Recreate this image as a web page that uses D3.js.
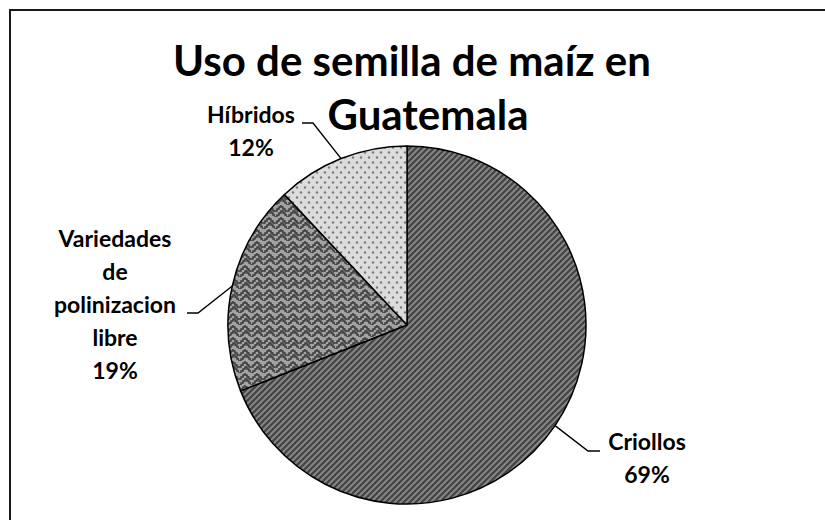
<!DOCTYPE html>
<html>
<head>
<meta charset="utf-8">
<script src="https://cdn.jsdelivr.net/npm/d3@7"></script>
<style>
  body { margin: 0; background: #fff; }
  svg { display: block; }
  text { font-family: Lato, "Open Sans", sans-serif; font-weight: bold; fill: #000; }
</style>
</head>
<body>
<svg id="chart" width="825" height="520"></svg>
<script>
// chart data
const categories = ['Criollos', 'Variedades de polinizacion libre', 'Híbridos'];
const values = [69, 19, 12];
const labelLines = [['Criollos'], ['Variedades', 'de', 'polinizacion', 'libre'], ['Híbridos']];
const titleLines = ['Uso de semilla de maíz en', 'Guatemala'];

const width = 825, height = 520;
const cx = 407, cy = 325, radius = 179;

// where each label block sits and where its leader line meets it
const labelLayout = [
    {x: 647, y: 450, elbow: [588, 451], end: [600, 451]},
    {x: 115, y: 247, elbow: [198, 313], end: [187, 313]},
    {x: 251, y: 123, elbow: [313, 123], end: [302, 123]}
];

const svg = d3.select('#chart');
const defs = svg.append('defs');

// criollos: dark upward diagonal stripes
const p1 = defs.append('pattern').attr('id', 'pat0')
    .attr('patternUnits', 'userSpaceOnUse').attr('width', 6).attr('height', 6);
p1.append('rect').attr('width', 6).attr('height', 6).attr('fill', '#8a8a8a');
p1.append('path').attr('d', 'M-1,7 L7,-1 M-4,4 L4,-4 M2,10 L10,2')
    .attr('stroke', '#464646').attr('stroke-width', 2.4);

// variedades: stepped zigzag weave
const p2 = defs.append('pattern').attr('id', 'pat1')
    .attr('patternUnits', 'userSpaceOnUse').attr('width', 12).attr('height', 12);
p2.append('rect').attr('width', 12).attr('height', 12).attr('fill', '#a2a2a2');
p2.append('path')
    .attr('d', 'M0,6 L2,6 L2,4 L4,4 L4,2 L6,2 L6,0 M6,0 L6,2 L8,2 L8,4 L10,4 L10,6 L12,6 M0,12 L2,12 L2,10 L4,10 L4,8 L6,8 L6,6 L8,6 L8,8 L10,8 L10,10 L12,10 L12,12')
    .attr('fill', 'none').attr('stroke', '#383838').attr('stroke-width', 1.4);

// hibridos: light dotted
const p3 = defs.append('pattern').attr('id', 'pat2')
    .attr('patternUnits', 'userSpaceOnUse').attr('width', 8).attr('height', 10);
p3.append('rect').attr('width', 8).attr('height', 10).attr('fill', '#dcdcdc');
p3.append('circle').attr('cx', 2).attr('cy', 2.5).attr('r', 1.2).attr('fill', '#7a7a7a');
p3.append('circle').attr('cx', 6).attr('cy', 7.5).attr('r', 1.2).attr('fill', '#7a7a7a');

// chart border (only top and left show inside the window)
svg.append('rect')
    .attr('x', 10).attr('y', 10).attr('width', width + 20).attr('height', height + 20)
    .attr('fill', 'none').attr('stroke', '#000').attr('stroke-width', 1.8);

const pie = d3.pie().sort(null).value(d => d)(values);
const arc = d3.arc().innerRadius(0).outerRadius(radius);

const g = svg.append('g').attr('transform', `translate(${cx},${cy})`);

g.selectAll('path.slice')
    .data(pie)
    .join('path')
    .attr('class', 'slice')
    .attr('d', arc)
    .attr('fill', (d, i) => `url(#pat${i})`)
    .attr('stroke', '#000')
    .attr('stroke-width', 1.5)
    .attr('stroke-linejoin', 'round');

// leader lines from mid-angle of each slice on the rim
pie.forEach(function(d, i) {
    const a = (d.startAngle + d.endAngle) / 2;
    const px = cx + radius * Math.sin(a);
    const py = cy - radius * Math.cos(a);
    const L = labelLayout[i];
    svg.append('polyline')
        .attr('points', [[px, py], L.elbow, L.end].map(p => p.join(',')).join(' '))
        .attr('fill', 'none')
        .attr('stroke', '#000')
        .attr('stroke-width', 1.4);
});

// labels
const total = d3.sum(values);
labelLines.forEach(function(lines, i) {
    const L = labelLayout[i];
    const t = svg.append('text').attr('text-anchor', 'middle').style('font-size', '23px');
    lines.concat([Math.round(values[i] / total * 100) + '%']).forEach(function(s, k) {
        t.append('tspan').attr('x', L.x).attr('y', L.y + k * 33).text(s);
    });
});

// title
const titleX = [412, 428];
titleLines.forEach(function(s, k) {
    svg.append('text')
        .attr('x', titleX[k]).attr('y', 76 + k * 54)
        .attr('text-anchor', 'middle')
        .style('font-size', '42px')
        .text(s);
});
</script>
</body>
</html>
